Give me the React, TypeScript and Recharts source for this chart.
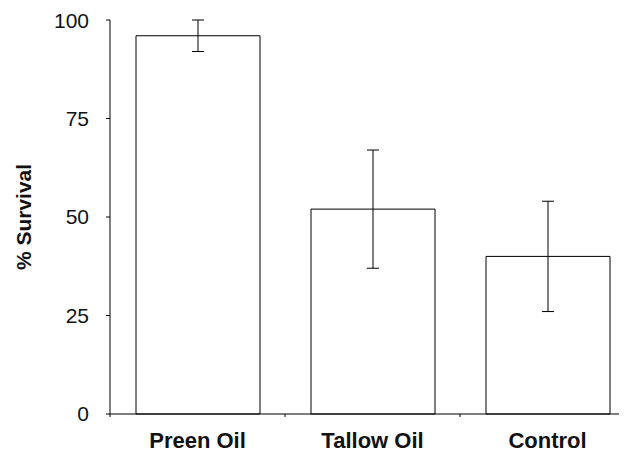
import { Bar, BarChart, ErrorBar, XAxis, YAxis } from "recharts";

const groups = ["Preen Oil", "Tallow Oil", "Control"];
const survival = [96, 52, 40];
const errors = [4, 15, 14];
const yTicks = [0, 25, 50, 75, 100];

const data = groups.map((name, i) => ({ name, survival: survival[i], err: errors[i] }));

const font = "'Liberation Sans', Arial, Helvetica, sans-serif";
const halfBand = 525 / groups.length / 2;

// category label plus the little tick marks that sit between the groups
const GroupTick = (props: any) => {
  const { x, y, payload, index } = props;
  const last = index === groups.length - 1;
  return (
    <g>
      <line x1={x - halfBand} x2={x - halfBand} y1={y} y2={y + 3} stroke="#000" />
      {last && <line x1={x + halfBand} x2={x + halfBand} y1={y} y2={y + 3} stroke="#000" />}
      <text
        x={x}
        y={y + 18}
        dy="0.71em"
        textAnchor="middle"
        fill="#111"
        fontSize={22}
        fontWeight="bold"
        fontFamily={font}
      >
        {payload.value}
      </text>
    </g>
  );
};

export default function App() {
  return (
    <div style={{ width: 619, height: 451, overflow: "hidden", background: "#fff" }}>
      <BarChart
        width={627}
        height={451}
        data={data}
        margin={{ top: 12, right: 0, bottom: 5, left: 0 }}
        barSize={124}
      >
        <XAxis
          dataKey="name"
          stroke="#000"
          tickLine={false}
          tickSize={0}
          tickMargin={0}
          height={40}
          interval={0}
          tick={<GroupTick />}
        />
        <YAxis
          domain={[0, 100]}
          ticks={yTicks}
          width={102}
          stroke="#000"
          tickSize={4}
          tickMargin={17}
          tick={{ fill: "#111", fontSize: 21, fontFamily: font }}
          label={{
            value: "% Survival",
            angle: -90,
            position: "insideLeft",
            offset: 16,
            style: { textAnchor: "middle", fill: "#111", fontSize: 21, fontWeight: "bold", fontFamily: font },
          }}
        />
        <Bar dataKey="survival" fill="#fff" stroke="#000" strokeWidth={1} isAnimationActive={false}>
          <ErrorBar dataKey="err" width={6} stroke="#000" strokeWidth={1} direction="y" />
        </Bar>
      </BarChart>
    </div>
  );
}
